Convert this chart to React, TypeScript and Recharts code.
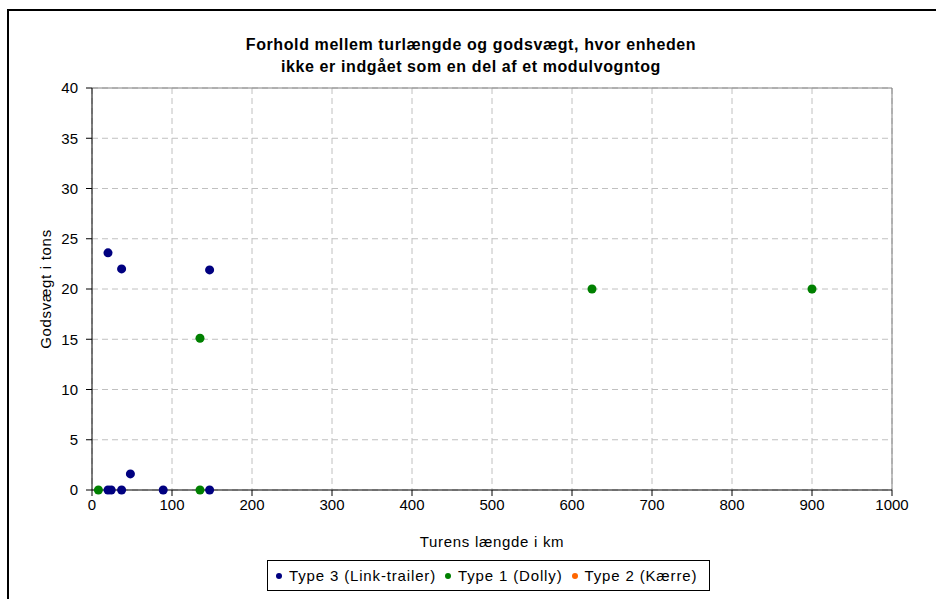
import {
  ScatterChart,
  Scatter,
  XAxis,
  YAxis,
  ZAxis,
  CartesianGrid,
  ReferenceLine,
  Legend,
} from "recharts";

// Turens længde (km) / godsvægt (tons)
const type3Km = [20, 37, 147, 48, 20, 24, 37, 89, 147];
const type3Tons = [23.6, 22, 21.9, 1.6, 0, 0, 0, 0, 0];
const type1Km = [135, 625, 900, 8, 135];
const type1Tons = [15.1, 20, 20, 0, 0];
const type2Km: number[] = [];
const type2Tons: number[] = [];

const seriesNames = ["Type 3 (Link-trailer)", "Type 1 (Dolly)", "Type 2 (Kærre)"];
const xTicks = [0, 100, 200, 300, 400, 500, 600, 700, 800, 900, 1000];
const yTicks = [0, 5, 10, 15, 20, 25, 30, 35, 40];

const toPoints = (km: number[], tons: number[]) =>
  km.map((x, i) => ({ x, y: tons[i] }));

const type3 = toPoints(type3Km, type3Tons);
const type1 = toPoints(type1Km, type1Tons);
const type2 = toPoints(type2Km, type2Tons);

const FONT = '"Liberation Sans", Arial, sans-serif';

const LegendBox = ({ payload }: any) => {
  const items = [...(payload || [])].sort(
    (a: any, b: any) => seriesNames.indexOf(a.value) - seriesNames.indexOf(b.value)
  );
  return (
    <div
      style={{
        display: "inline-flex",
        alignItems: "center",
        height: 29,
        padding: "0 5px 0 6px",
        border: "1px solid #000",
        background: "#fff",
        fontFamily: FONT,
        fontSize: 15,
        letterSpacing: 0.85,
        color: "#000",
        whiteSpace: "nowrap",
      }}
    >
      {items.map((p: any) => (
        <span
          key={p.value}
          style={{ display: "inline-flex", alignItems: "center", marginRight: 7 }}
        >
          <svg width={11} height={10} style={{ marginRight: 4 }}>
            <circle cx={5} cy={5} r={3} fill={p.color} />
          </svg>
          {p.value}
        </span>
      ))}
    </div>
  );
};

export default function App() {
  return (
    <div
      style={{
        position: "absolute",
        left: 0,
        top: 0,
        width: 936,
        height: 599,
        overflow: "hidden",
        background: "#fff",
        fontFamily: FONT,
      }}
    >
      <div
        style={{
          position: "absolute",
          left: 7,
          top: 9,
          width: 960,
          height: 620,
          borderLeft: "2px solid #000",
          borderTop: "2px solid #000",
        }}
      />
      <div
        style={{
          position: "absolute",
          left: 8,
          width: 926,
          top: 34,
          textAlign: "center",
          fontWeight: "bold",
          fontSize: 16,
          letterSpacing: 0.6,
          lineHeight: "22px",
          color: "#000",
        }}
      >
        Forhold mellem turlængde og godsvægt, hvor enheden
        <br />
        ikke er indgået som en del af et modulvogntog
      </div>
      <ScatterChart
        width={936}
        height={599}
        margin={{ top: 88, right: 44, bottom: 49, left: 32 }}
        style={{ position: "absolute", left: 0, top: 0 }}
      >
        <CartesianGrid stroke="#c0c0c0" strokeDasharray="6 4" />
        <XAxis
          type="number"
          dataKey="x"
          domain={[0, 1000]}
          ticks={xTicks}
          interval={0}
          height={60}
          tickSize={6}
          tickMargin={3}
          axisLine={{ stroke: "#000" }}
          tickLine={{ stroke: "#000" }}
          tick={{ fill: "#000", fontSize: 15, fontFamily: FONT }}
          label={({ viewBox }: any) => (
            <text
              x={viewBox.x + viewBox.width / 2}
              y={viewBox.y + 57}
              textAnchor="middle"
              fontSize={15}
              letterSpacing={0.7}
              fontFamily={FONT}
              fill="#000"
            >
              Turens længde i km
            </text>
          )}
        />
        <YAxis
          type="number"
          dataKey="y"
          domain={[0, 40]}
          ticks={yTicks}
          interval={0}
          width={60}
          tickSize={6}
          tickMargin={8}
          axisLine={{ stroke: "#000" }}
          tickLine={{ stroke: "#000" }}
          tick={{ fill: "#000", fontSize: 15, fontFamily: FONT }}
          label={({ viewBox }: any) => {
            const cx = viewBox.x + 13;
            const cy = viewBox.y + viewBox.height / 2;
            return (
              <text
                x={cx}
                y={cy}
                transform={`rotate(-90, ${cx}, ${cy})`}
                textAnchor="middle"
                dominantBaseline="central"
                fontSize={15}
                letterSpacing={0.7}
                fontFamily={FONT}
                fill="#000"
              >
                Godsvægt i tons
              </text>
            );
          }}
        />
        <ZAxis range={[64, 64]} />
        <ReferenceLine y={40} stroke="#808080" />
        <ReferenceLine x={1000} stroke="#808080" />
        <Legend
          layout="horizontal"
          verticalAlign="middle"
          align="center"
          content={<LegendBox />}
          wrapperStyle={{
            position: "absolute",
            left: 267,
            top: 560,
            bottom: "auto",
            width: "auto",
          }}
        />
        <Scatter
          name={seriesNames[0]}
          data={type3}
          fill="#000080"
          isAnimationActive={false}
        />
        <Scatter
          name={seriesNames[1]}
          data={type1}
          fill="#008000"
          isAnimationActive={false}
        />
        <Scatter
          name={seriesNames[2]}
          data={type2}
          fill="#ff6600"
          isAnimationActive={false}
        />
      </ScatterChart>
    </div>
  );
}
